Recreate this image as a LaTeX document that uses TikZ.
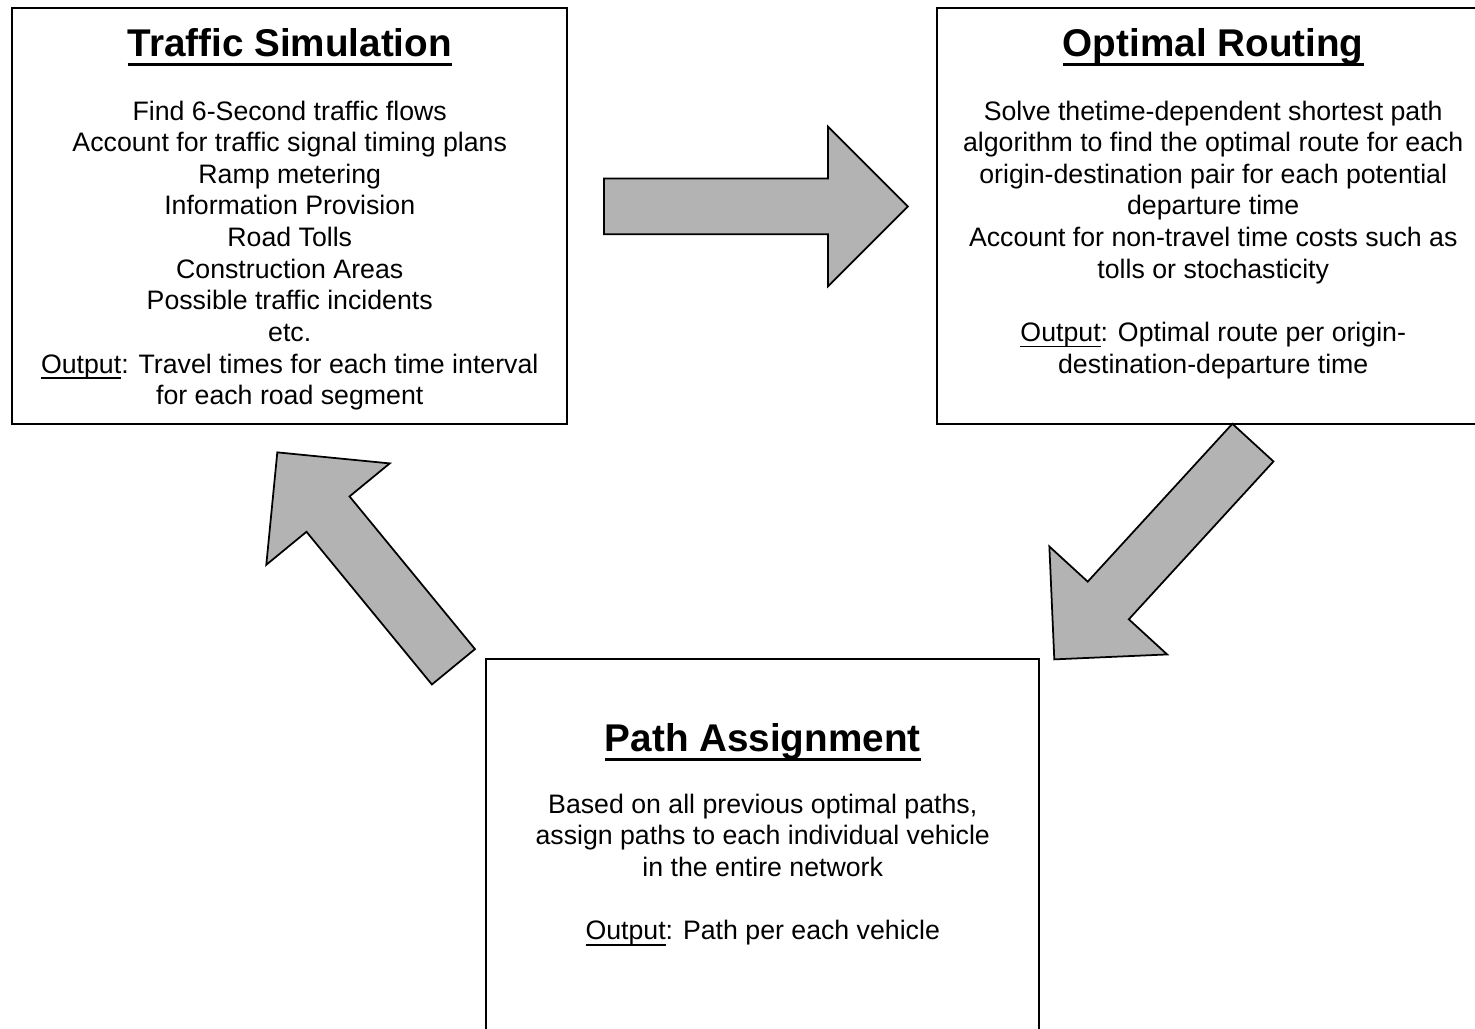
\documentclass[tikz,border=0pt]{standalone}
\usepackage{fontspec}
\setmainfont{Liberation Sans}
\usepackage{tikz}
\usetikzlibrary{shapes.arrows,positioning}
\definecolor{arrowgray}{RGB}{179,179,179}
\newcommand{\headul}[1]{\sbox0{#1}\rlap{\usebox0}\rule[-2.6pt]{\wd0}{0.9pt}}
\newcommand{\outul}[1]{\sbox0{#1}\rlap{\usebox0}\rule[-1.7pt]{\wd0}{0.45pt}}

\begin{document}
\begin{tikzpicture}[
    procbox/.style={draw, line width=0.7pt, minimum width=5.55cm, minimum height=4.16cm, anchor=north west, inner sep=0pt},
    boxtitle/.style={font=\fontsize{11}{13}\selectfont\bfseries, inner sep=0pt},
    boxbody/.style={font=\fontsize{7.6}{9}\selectfont, align=center, inner sep=0pt},
    bigarrow/.style={single arrow, draw, fill=arrowgray, line width=0.5pt, single arrow head extend=0.52cm, minimum width=1.58cm, inner xsep=0pt, inner ysep=0.27cm, anchor=tail}]
    \useasboundingbox (0,0) rectangle (14.75,10.29);
    \clip (0,0) rectangle (14.75,10.29);

    % Boxes
    \node[procbox] (sim) at (0.11,10.22) {};
    \node[procbox, minimum width=5.52cm] (rout) at (9.36,10.22) {};
    \node[procbox, minimum width=5.53cm] (asg) at (4.85,3.71) {};

    % Titles
    \node[boxtitle, below=0.21cm of sim.north] (simtitle) {\headul{Traffic Simulation}};
    \node[boxtitle, below=0.21cm of rout.north] (routtitle) {\headul{Optimal Routing}};
    \node[boxtitle, below=0.65cm of asg.north] (asgtitle) {\headul{Path Assignment}};

    % Text
    \node[boxbody, below=0.93cm of sim.north] (simtext) {Find 6-Second traffic flows\\
        Account for traffic signal timing plans\\
        Ramp metering\\
        Information Provision\\
        Road Tolls\\
        Construction Areas\\
        Possible traffic incidents\\
        etc.\\
        \outul{Output}: Travel times for each time interval\\
        for each road segment};
    \node[boxbody, below=0.93cm of rout.north] (routtext) {Solve thetime-dependent shortest path\\
        algorithm to find the optimal route for each\\
        origin-destination pair for each potential\\
        departure time\\
        Account for non-travel time costs such as\\
        tolls or stochasticity\\[9pt]
        \outul{Output}: Optimal route per origin-\\
        destination-departure time};
    \node[boxbody, below=1.35cm of asg.north] (asgtext) {Based on all previous optimal paths,\\
        assign paths to each individual vehicle\\
        in the entire network\\[9pt]
        \outul{Output}: Path per each vehicle};

    % Arrows
    \node[bigarrow, minimum height=3.04cm] (simrout) at (6.03,8.225) {};
    \node[bigarrow, minimum height=2.94cm, rotate=227.5] (routasg) at (12.535,5.87) {};
    \node[bigarrow, minimum height=2.775cm, rotate=129.4] (asgsim) at (4.54,3.615) {};
\end{tikzpicture}
\end{document}
